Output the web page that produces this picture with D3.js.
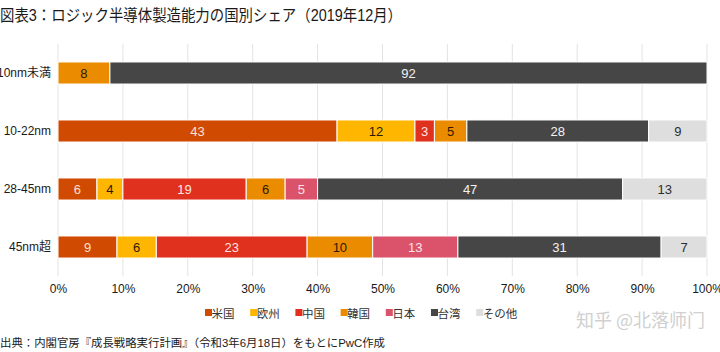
<!DOCTYPE html>
<html><head><meta charset="utf-8">
<script src="https://cdn.jsdelivr.net/npm/d3@7"></script>
<style>
body{margin:0;background:#fff;}
svg{display:block;font-family:"Liberation Sans","Noto Sans CJK JP",sans-serif;}
</style></head>
<body>
<svg id="chart" width="720" height="352"></svg>
<script>
const categories = ["10nm未満","10-22nm","28-45nm","45nm超"];
const seriesNames = ["米国","欧州","中国","韓国","日本","台湾","その他"];
const usa    = [0, 43, 6, 9];
const europe = [0, 12, 4, 6];
const china  = [0, 3, 19, 23];
const korea  = [8, 5, 6, 10];
const japan  = [0, 0, 5, 13];
const taiwan = [92, 28, 47, 31];
const others = [0, 9, 13, 7];
const xTicks = [0,0.1,0.2,0.3,0.4,0.5,0.6,0.7,0.8,0.9,1.0];

const colors = ["#d04a02","#ffb600","#e0301e","#eb8c00","#db536a","#464646","#dedede"];
const textColors = ["#fbe0d2","#2d1a00","#fde3e0","#2d1a00","#fde3e8","#f2f2f2","#2d2d2d"];

const seriesValues = [usa, europe, china, korea, japan, taiwan, others];
const rows = categories.map((c,i)=>{
  const o = {cat:c};
  seriesNames.forEach((s,j)=>o[s]=seriesValues[j][i]);
  return o;
});
const stack = d3.stack().keys(seriesNames).offset(d3.stackOffsetExpand);
const layers = stack(rows);

const svg = d3.select("#chart");
const x = d3.scaleLinear().domain([0,1]).range([58,707]);
const y = d3.scaleBand().domain(categories).range([44,276]).paddingInner(0.62).paddingOuter(0.31);

// title
svg.append("text").attr("x",0).attr("y",21).attr("font-size",16).attr("fill","#1a1a1a")
  .attr("textLength",402).attr("lengthAdjust","spacingAndGlyphs")
  .text("図表3：ロジック半導体製造能力の国別シェア（2019年12月）");

// gridlines
svg.append("g").selectAll("line").data(xTicks).join("line")
  .attr("x1",d=>x(d)).attr("x2",d=>x(d)).attr("y1",44).attr("y2",276)
  .attr("stroke","#e3e3e3").attr("stroke-width",1);

// bars
const g = svg.append("g");
layers.forEach((layer,j)=>{
  layer.forEach((d,i)=>{
    const w = x(d[1]) - x(d[0]);
    if (w <= 0) return;
    g.append("rect").attr("x",x(d[0])).attr("y",y(categories[i]))
      .attr("width",w).attr("height",y.bandwidth())
      .attr("fill",colors[j]).attr("stroke","#ffffff").attr("stroke-width",1);
    g.append("text").attr("x",x(d[0])+w/2).attr("y",y(categories[i])+y.bandwidth()/2+4.5)
      .attr("text-anchor","middle").attr("font-size",13).attr("fill",textColors[j])
      .text(seriesValues[j][i]);
  });
});

// y axis labels
const yAxis = d3.axisLeft(y).tickSize(0).tickPadding(7);
const ya = svg.append("g").attr("transform","translate(58,0)").call(yAxis);
ya.select(".domain").remove();
ya.selectAll("text").attr("font-size",12).attr("fill","#1a1a1a")
  .attr("font-family","Liberation Sans, Noto Sans CJK JP, sans-serif");

// x axis
const xAxis = d3.axisBottom(x).tickValues(xTicks).tickFormat(d3.format(".0%")).tickSize(0).tickPadding(8);
const xa = svg.append("g").attr("transform","translate(0,276)").call(xAxis);
xa.select(".domain").remove();
xa.selectAll("text").attr("font-size",12).attr("fill","#1a1a1a")
  .attr("font-family","Liberation Sans, sans-serif");

// legend
const legend = svg.append("g");
seriesNames.forEach((s,j)=>{
  const lx = 205 + j*45.2;
  legend.append("rect").attr("x",lx).attr("y",309).attr("width",7).attr("height",7).attr("fill",colors[j]);
  legend.append("text").attr("x",lx+6.5).attr("y",317.5).attr("font-size",11.5).attr("fill","#333")
    .text(s);
});

// source
svg.append("text").attr("x",0).attr("y",347).attr("font-size",11).attr("fill","#1a1a1a")
  .attr("textLength",385).attr("lengthAdjust","spacingAndGlyphs")
  .text("出典：内閣官房『成長戦略実行計画』（令和3年6月18日）をもとにPwC作成");

// watermark
svg.append("text").attr("x",576).attr("y",327).attr("font-size",18).attr("fill","#d0d0d0")
  .attr("font-family","Noto Sans CJK SC, sans-serif").text("知乎 @北落师门");
</script>
</body></html>
